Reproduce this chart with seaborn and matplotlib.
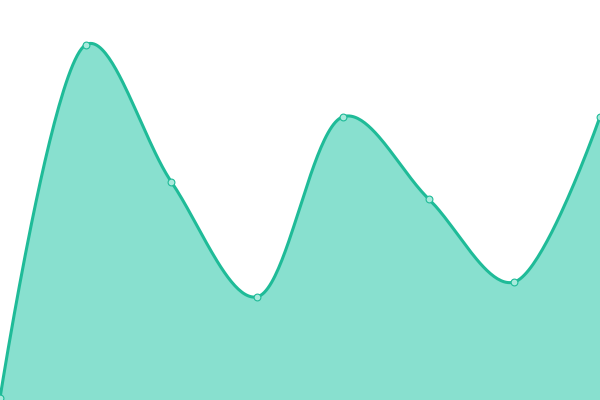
import numpy as np
import pandas as pd
import seaborn as sns
import matplotlib
matplotlib.use("Agg")
import matplotlib.pyplot as plt

# values (0-100 scale, baseline at bottom)
positions = [0, 1, 2, 3, 4, 5, 6, 7]
values = [0.5, 88.8, 54.5, 25.8, 70.8, 50.3, 29.5, 70.8]

LINE = "#1fbb98"
FILL = "#88e0cf"
W, H = 600, 400


def catmull_rom(x, y, alpha=0.3, steps=50):
    # catmull-rom (d3 style) in pixel space, only for drawing
    px = np.asarray(x, float) / 7 * W
    py = np.asarray(y, float) / 100 * H
    pts = np.column_stack([px, py])
    n = len(pts)
    ext = np.vstack([pts[0], pts, pts[-1]])
    d = np.linalg.norm(np.diff(ext, axis=0), axis=1)
    out = [pts[:1]]
    for i in range(n - 1):
        p0, p1, p2, p3 = ext[i], ext[i + 1], ext[i + 2], ext[i + 3]
        l01, l12, l23 = d[i] ** alpha, d[i + 1] ** alpha, d[i + 2] ** alpha
        if d[i] < 1e-9:
            l01 = 0
        if d[i + 2] < 1e-9:
            l23 = 0
        c1, c2 = p1.copy(), p2.copy()
        if l01 > 1e-12:
            a = 2 * l01**2 + 3 * l01 * l12 + l12**2
            c1 = (p1 * a - p0 * l12**2 + p2 * l01**2) / (3 * l01 * (l01 + l12))
        if l23 > 1e-12:
            b = 2 * l23**2 + 3 * l23 * l12 + l12**2
            c2 = (p2 * b + p1 * l23**2 - p3 * l12**2) / (3 * l23 * (l23 + l12))
        t = np.linspace(0, 1, steps)[1:, None]
        seg = ((1 - t) ** 3) * p1 + 3 * ((1 - t) ** 2) * t * c1 \
            + 3 * (1 - t) * t**2 * c2 + t**3 * p2
        out.append(seg)
    curve = np.vstack(out)
    return curve[:, 0] / W * 7, curve[:, 1] / H * 100


sns.set_style("white")
fig = plt.figure(figsize=(6, 4), dpi=100)
ax = fig.add_axes([0, 0, 1, 1])

sx, sy = catmull_rom(positions, values)
smooth = pd.DataFrame({"x": sx, "y": sy})
pts = pd.DataFrame({"x": positions, "y": values})

ax.fill_between(sx, 0, sy, color=FILL, lw=0, zorder=1)
sns.lineplot(data=smooth, x="x", y="y", ax=ax, color=LINE, lw=2.2, sort=False,
             estimator=None, zorder=2)
sns.scatterplot(data=pts, x="x", y="y", ax=ax, s=24, color="#a8eadc",
                edgecolor=LINE, linewidth=0.8, zorder=3, clip_on=False)

ax.set_xlim(0, 7)
ax.set_ylim(0, 100)
ax.axis("off")

fig.savefig("out.png", dpi=100)
